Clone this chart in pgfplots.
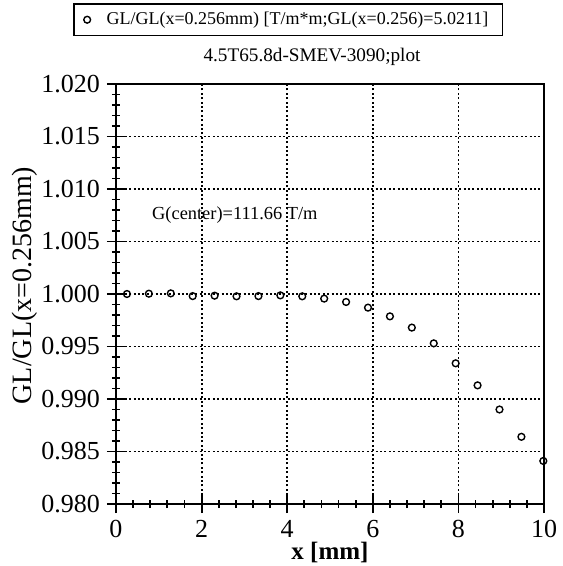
\documentclass[border=0pt]{standalone}
\usepackage{fontspec}
\setmainfont{Liberation Serif}
\usepackage{pgfplots}
\pgfplotsset{compat=1.18}
\begin{document}
\begin{tikzpicture}
\path[use as bounding box] (-58pt,-31pt) rectangle (223pt,252pt);
\begin{axis}[
at={(0,0)}, anchor=south west,
scale only axis,
width=214pt, height=210pt,
xmin=0, xmax=10,
ymin=0.98, ymax=1.02,
xtick={0,2,4,6,8,10},
ytick={0.980,0.985,0.990,0.995,1.000,1.005,1.010,1.015,1.020},
minor x tick num=4,
minor y tick num=4,
tick pos=left,
tick align=center,
major tick length=9pt,
minor tick length=4pt,
grid=major,
major grid style={dash pattern=on 1pt off 1.2pt, line width=0.9pt, black},
axis line style={line width=1.3pt},
every tick/.style={black, line width=0.9pt},
/pgf/number format/assume math mode=true,
y tick label style={/pgf/number format/.cd, fixed, fixed zerofill, precision=3},
tick label style={font=\fontsize{13}{15}\selectfont},
xlabel={\textbf{x [mm]}},
xlabel style={at={(axis description cs:0.5,-0.115)}, anchor=center, font=\fontsize{12.5}{14}\selectfont},
ylabel={GL/GL(x=0.256mm)},
ylabel style={at={(axis description cs:-0.213,0.52)}, anchor=center, font=\fontsize{14}{16}\selectfont},
legend style={at={(axis description cs:0.402,1.153)}, anchor=center, draw=black, line width=0.8pt,
  font=\fontsize{9}{11}\selectfont, inner xsep=5pt},
clip=false,
]
\addplot[only marks, mark=o, mark size=1.7pt, line width=0.7pt, black] coordinates {
(0.256,1.00000) (0.768,1.00003) (1.280,1.00006) (1.792,0.99980) (2.304,0.99984)
(2.816,0.99978) (3.328,0.99980) (3.840,0.99987) (4.352,0.99978) (4.864,0.99956)
(5.376,0.99924) (5.888,0.99870) (6.400,0.99787) (6.912,0.99680) (7.424,0.99530)
(7.936,0.99340) (8.448,0.99130) (8.960,0.98900) (9.472,0.98640) (9.984,0.98410)
};
\addlegendentry{\hspace{6pt}GL/GL(x=0.256mm) [T/m*m;GL(x=0.256)=5.0211]}
\node[font=\fontsize{9.6}{11}\selectfont] at (axis description cs:0.458,1.064) {4.5T65.8d-SMEV-3090;plot};
\node[anchor=west, font=\fontsize{9.2}{11}\selectfont] at (axis cs:0.68,1.0075) {G(center)=111.66 T/m};
\end{axis}
\end{tikzpicture}
\end{document}
